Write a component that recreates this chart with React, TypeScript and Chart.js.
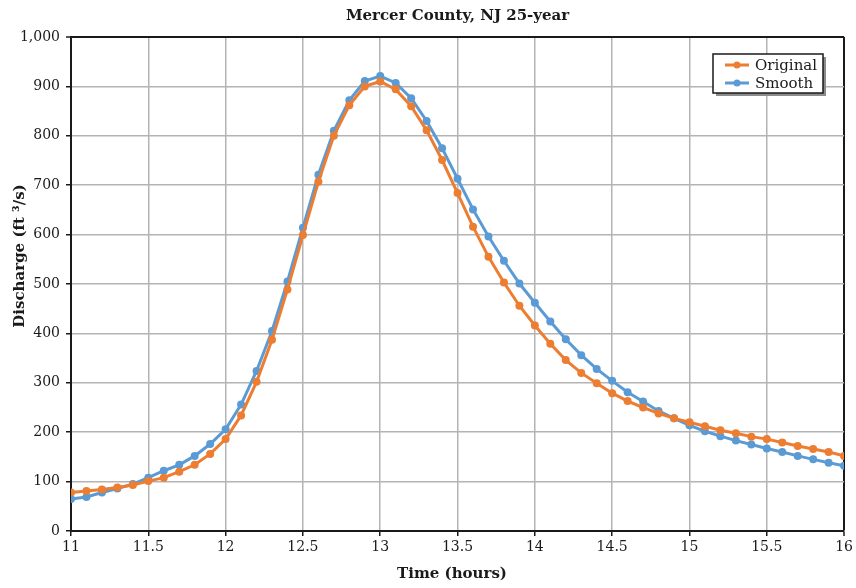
import React, { useEffect, useRef } from "react";
import { Chart, registerables } from "chart.js";

Chart.register(...registerables);

const chartTitle = "Mercer County, NJ 25-year";
const xAxisTitle = "Time (hours)";
const yAxisTitle = "Discharge (ft \u00B3/s)";
const seriesNames = ["Original", "Smooth"];
const seriesColors = ["#ED7D31", "#5B9BD5"];

const times = [
  11.0, 11.1, 11.2, 11.3, 11.4, 11.5, 11.6, 11.7, 11.8, 11.9,
  12.0, 12.1, 12.2, 12.3, 12.4, 12.5, 12.6, 12.7, 12.8, 12.9,
  13.0, 13.1, 13.2, 13.3, 13.4, 13.5, 13.6, 13.7, 13.8, 13.9,
  14.0, 14.1, 14.2, 14.3, 14.4, 14.5, 14.6, 14.7, 14.8, 14.9,
  15.0, 15.1, 15.2, 15.3, 15.4, 15.5, 15.6, 15.7, 15.8, 15.9,
  16.0,
];

const original = [
  78, 81, 84, 88, 93, 101, 108, 120, 134, 156,
  186, 234, 302, 387, 489, 599, 707, 800, 862, 900,
  910, 894, 860, 811, 751, 684, 616, 555, 503, 456,
  416, 379, 346, 320, 299, 279, 263, 250, 238, 228,
  220, 212, 204, 198, 191, 186, 179, 172, 166, 160,
  152,
];

const smooth = [
  65, 69, 78, 86, 95, 108, 122, 134, 152, 176,
  206, 256, 324, 405, 505, 614, 721, 810, 872, 911,
  921, 907, 876, 830, 775, 713, 651, 596, 547, 501,
  462, 424, 388, 356, 328, 304, 281, 262, 243, 228,
  214, 202, 192, 183, 175, 167, 160, 152, 145, 138,
  132,
];

const xMin = 11;
const xMax = 16;
const xStep = 0.5;
const yMin = 0;
const yMax = 1000;
const yStep = 100;

const FONT = "'DejaVu Serif', serif";
const DARK = "#1a1a1a";
const GRID = "#b4b4b4";

const decorPlugin = {
  id: "decor",
  afterDraw(chart: any) {
    const ctx = chart.ctx as CanvasRenderingContext2D;
    const area = chart.chartArea;
    // Chart title, centred over the plot area
    ctx.save();
    ctx.font = `bold 15px ${FONT}`;
    ctx.fillStyle = DARK;
    ctx.textAlign = "center";
    ctx.textBaseline = "middle";
    ctx.fillText(chartTitle, (area.left + area.right) / 2, 16);
    ctx.restore();

    // Y axis title
    ctx.save();
    ctx.translate(20, 256);
    ctx.rotate(-Math.PI / 2);
    ctx.font = `bold 15px ${FONT}`;
    ctx.fillStyle = DARK;
    ctx.textAlign = "center";
    ctx.textBaseline = "middle";
    ctx.fillText(yAxisTitle, 0, 0);
    ctx.restore();

    // X axis title
    ctx.save();
    ctx.font = `bold 15px ${FONT}`;
    ctx.fillStyle = DARK;
    ctx.textAlign = "center";
    ctx.textBaseline = "middle";
    ctx.fillText(xAxisTitle, 452, 574);
    ctx.restore();

    // Legend box
    const bx = 713, by = 54, bw = 110, bh = 39;
    ctx.save();
    ctx.fillStyle = "#8c8c8c";
    ctx.fillRect(bx + 3, by + 3, bw, bh);
    ctx.fillStyle = "#ffffff";
    ctx.fillRect(bx, by, bw, bh);
    ctx.strokeStyle = DARK;
    ctx.lineWidth = 1.5;
    ctx.strokeRect(bx, by, bw, bh);
    const rows = [65, 83];
    seriesNames.forEach((name, i) => {
      const y = rows[i];
      ctx.strokeStyle = seriesColors[i];
      ctx.lineWidth = 3;
      ctx.beginPath();
      ctx.moveTo(725, y);
      ctx.lineTo(749, y);
      ctx.stroke();
      ctx.fillStyle = seriesColors[i];
      ctx.beginPath();
      ctx.arc(737, y, 3.5, 0, Math.PI * 2);
      ctx.fill();
      ctx.fillStyle = DARK;
      ctx.font = `15px ${FONT}`;
      ctx.textAlign = "left";
      ctx.textBaseline = "middle";
      ctx.fillText(name, 755, y + 1);
    });
    ctx.restore();
  },
};

export default function App() {
  const canvasRef = useRef<HTMLCanvasElement | null>(null);

  useEffect(() => {
    if (!canvasRef.current) return;
    const seriesValues = [original, smooth];
    const chart = new Chart(canvasRef.current, {
      type: "line",
      data: {
        datasets: seriesNames.map((name, s) => ({
          label: name,
          data: times.map((t, i) => ({ x: t, y: seriesValues[s][i] })),
          borderColor: seriesColors[s],
          backgroundColor: seriesColors[s],
          pointBackgroundColor: seriesColors[s],
          pointBorderColor: seriesColors[s],
          pointRadius: 4,
          pointBorderWidth: 0,
          borderWidth: 3,
          tension: 0,
          fill: false,
        })),
      },
      options: {
        responsive: false,
        animation: false,
        layout: { padding: { left: 0, right: 11, top: 37, bottom: 0 } },
        plugins: {
          legend: { display: false },
          tooltip: { enabled: false },
          title: { display: false },
        },
        scales: {
          x: {
            type: "linear",
            min: xMin,
            max: xMax,
            afterFit: (scale: any) => {
              scale.height = 57;
            },
            ticks: {
              stepSize: xStep,
              color: DARK,
              font: { family: FONT, size: 14 },
              padding: 3,
              maxRotation: 0,
              autoSkip: false,
              callback: (v: any) => String(v),
            },
            grid: {
              color: (c: any) => (c.tick && c.tick.value === xMax ? DARK : GRID),
              lineWidth: (c: any) => (c.tick && c.tick.value === xMax ? 2 : 1.5),
              tickColor: DARK,
              tickLength: 5,
              tickWidth: 1.5,
            },
            border: { display: true, color: DARK, width: 2 },
          },
          y: {
            type: "linear",
            min: yMin,
            max: yMax,
            afterFit: (scale: any) => {
              scale.width = 71;
            },
            ticks: {
              stepSize: yStep,
              color: DARK,
              font: { family: FONT, size: 14 },
              padding: 6,
              callback: (v: any) => Number(v).toLocaleString("en-US"),
            },
            grid: {
              color: (c: any) => (c.tick && c.tick.value === yMax ? DARK : GRID),
              lineWidth: (c: any) => (c.tick && c.tick.value === yMax ? 2 : 1.5),
              tickColor: DARK,
              tickLength: 5,
              tickWidth: 1.5,
            },
            border: { display: true, color: DARK, width: 2 },
          },
        },
      } as any,
      plugins: [decorPlugin],
    });
    return () => chart.destroy();
  }, []);

  return (
    <div style={{ position: "fixed", left: 0, top: 0, width: 856, height: 588, background: "#ffffff" }}>
      <canvas ref={canvasRef} width={856} height={588} style={{ display: "block" }} />
    </div>
  );
}
